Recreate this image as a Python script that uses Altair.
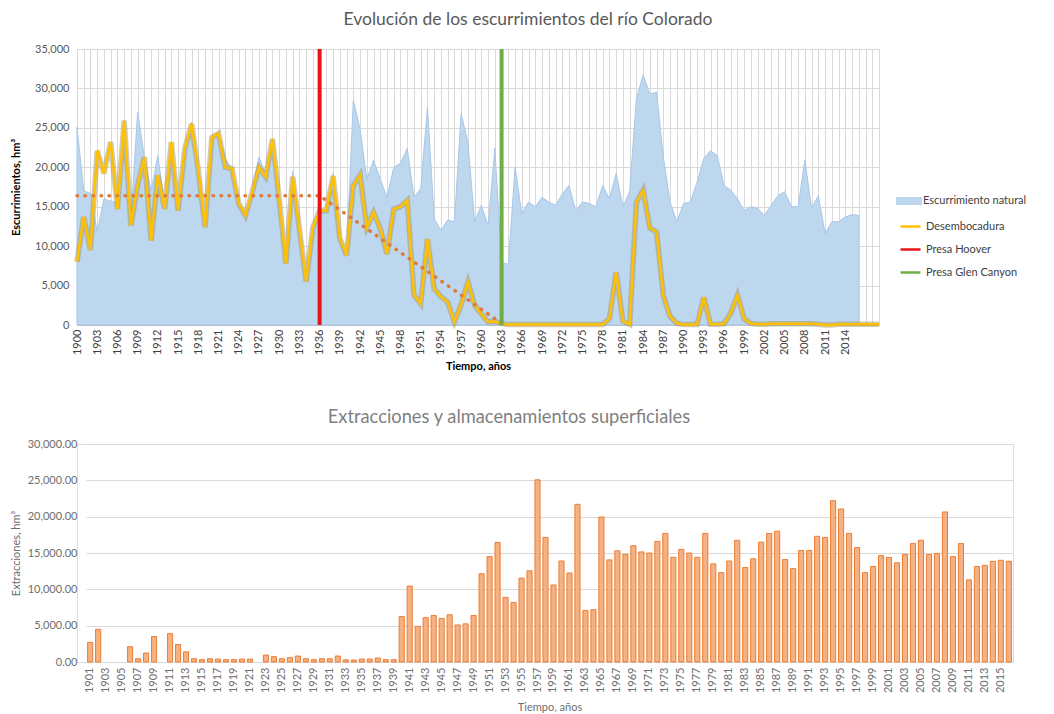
import altair as alt
import pandas as pd

# ---------------- data ----------------
years_nat = list(range(1900, 2017))
natural = [
    25100, 17000, 16700, 11800, 16000, 15700, 15500, 26000, 13500, 27000,
    21300, 17000, 21500, 15000, 23200, 14600, 22400, 25700, 19600, 12600,
    23800, 24400, 21100, 19800, 15500, 14000, 17000, 21300, 19200, 23600,
    16500, 8000, 19500, 12300, 5600, 12500, 14500, 14600, 19200, 11000,
    8800, 28500, 24900, 18500, 20900, 18500, 16200, 20000, 20500, 22400,
    16200, 17300, 27600, 13500, 12000, 13300, 13100, 26800, 23200, 13100,
    15200, 12600, 22400, 7900, 7700, 20000, 14100, 15600, 15000, 16200,
    15600, 15200, 16600, 17700, 14500, 15600, 15400, 15000, 17700, 16000,
    19200, 15000, 16900, 28700, 31700, 29300, 29500, 21300, 15600, 13100,
    15400, 15600, 18100, 21100, 22100, 21500, 17700, 17100, 16000, 14500,
    15000, 14800, 13900, 15200, 16400, 16900, 15000, 15000, 20900, 14800,
    16400, 11600, 13100, 13100, 13700, 14000, 13900,
]

years_out = list(range(1900, 2020))
outlet = [
    8000, 13700, 9500, 22100, 19200, 23200, 14700, 25900, 12600, 17700,
    21300, 10700, 19000, 14700, 23200, 14500, 22400, 25500, 19600, 12400,
    23800, 24300, 20000, 19800, 15400, 13900, 16900, 20000, 18800, 23600,
    16000, 7800, 18800, 12200, 5500, 12400, 14500, 14500, 18900, 11000,
    8800, 17700, 19000, 12400, 14300, 12200, 9000, 14700, 15000, 15800,
    3800, 2700, 10900, 4600, 3600, 2900, 400, 2600, 5450, 2500,
    1400, 400, 450, 170, 50, 60, 60, 60, 60, 60,
    60, 60, 60, 60, 60, 60, 60, 60, 50, 800,
    6700, 500, 100, 15500, 17100, 12300, 11800, 3700, 1100, 200,
    50, 50, 50, 3500, 100, 100, 150, 1500, 3800, 800,
    200, 100, 100, 150, 150, 150, 150, 150, 150, 150,
    100, 0, 0, 100, 100, 100, 100, 100, 100, 100,
]

dam_years = [1936, 1963]
dam_names = ["Presa Hoover", "Presa Glen Canyon"]

trend_years = [1900, 1936, 1963]
trend_vals = [16400, 16400, 200]

bar_years = list(range(1901, 2017))
extractions = [
    2700, 4500, 0, 0, 0, 2100, 450, 1230, 3500, 0,
    3900, 2400, 1400, 450, 320, 450, 400, 320, 320, 400,
    400, 0, 950, 730, 450, 600, 820, 450, 320, 450,
    450, 820, 300, 270, 400, 400, 550, 320, 320, 6250,
    10450, 4900, 6100, 6400, 6000, 6500, 5100, 5250, 6400, 12150,
    14500, 16450, 8900, 8200, 11550, 12550, 25070, 17150, 10600, 13900,
    12250, 21700, 7100, 7200, 19950, 14050, 15300, 14800, 16000, 15150,
    15000, 16600, 17700, 14400, 15500, 15000, 14400, 17700, 13500, 12300,
    13900, 16750, 13000, 14200, 16500, 17700, 18000, 14100, 12850, 15350,
    15350, 17300, 17150, 22200, 21050, 17700, 15750, 12300, 13150, 14650,
    14400, 13650, 14800, 16300, 16750, 14800, 14950, 20650, 14500, 16300,
    11300, 13150, 13300, 13850, 14000, 13850,
]

FONT = "Lato"

nat_df = pd.DataFrame({"year": years_nat, "v": natural, "serie": "Escurrimiento natural"})
out_df = pd.DataFrame({"year": years_out, "v": outlet, "serie": "Desembocadura"})
dam_df = pd.DataFrame({"year": dam_years, "serie": dam_names})
trend_df = pd.DataFrame({"year": trend_years, "v": trend_vals})
bar_df = pd.DataFrame({"year": bar_years, "v": extractions})

# ---------------- top chart ----------------
x_top = alt.X(
    "year:Q",
    scale=alt.Scale(domain=[1900, 2019], nice=False, zero=False),
    axis=alt.Axis(
        values=list(range(1900, 2020)),
        format="d",
        labelExpr="(datum.value - 1900) % 3 == 0 && datum.value <= 2014 ? datum.label : ''",
        labelAngle=-90,
        labelOverlap=False,
        labelFlush=False,
        labelFont=FONT,
        labelFontSize=11,
        labelColor="#404040",
        labelPadding=4,
        grid=True,
        gridColor="#D9D9D9",
        ticks=False,
        domainColor="#BFBFBF",
        title="Tiempo, años",
        titleFont=FONT,
        titleFontSize=11,
        titleFontWeight="bold",
        titleColor="#000000",
        titlePadding=6,
    ),
)

y_axis_top = alt.Axis(
    values=list(range(0, 35001, 5000)),
    labelExpr="format(datum.value, ',')",
    labelFont=FONT,
    labelFontSize=11,
    labelColor="#595959",
    labelPadding=8,
    grid=True,
    gridColor="#D9D9D9",
    ticks=False,
    domain=False,
    title="Escurrimientos, hm³",
    titleFont=FONT,
    titleFontSize=11,
    titleFontWeight="bold",
    titleColor="#000000",
    titlePadding=13,
)
y_top = alt.Y("v:Q", scale=alt.Scale(domain=[0, 35000], nice=False), stack=None, axis=y_axis_top)

fill_scale = alt.Scale(domain=["Escurrimiento natural"], range=["#BDD7EE"])
stroke_scale = alt.Scale(
    domain=["Desembocadura", "Presa Hoover", "Presa Glen Canyon"],
    range=["#FFC000", "#E8141B", "#70AD47"],
)

fill_legend = alt.Legend(
    title=None,
    orient="none",
    legendX=822,
    legendY=142,
    symbolType="M-1.3,-0.4H1.3V0.4H-1.3Z",
    symbolSize=400,
    symbolStrokeWidth=0,
    labelFont=FONT,
    labelFontSize=11,
    labelColor="#404040",
    labelOffset=4,
)
stroke_legend = alt.Legend(
    title=None,
    orient="none",
    legendX=822,
    legendY=166,
    symbolType="stroke",
    symbolSize=400,
    symbolStrokeWidth=2.5,
    rowPadding=6,
    labelFont=FONT,
    labelFontSize=11,
    labelColor="#404040",
    labelOffset=4,
)

area = alt.Chart(nat_df).mark_area(stroke="#A9C7E8", strokeWidth=1, fillOpacity=1).encode(
    x=x_top,
    y=y_top,
    fill=alt.Fill("serie:N", scale=fill_scale, legend=fill_legend),
)

shadow = alt.Chart(out_df).mark_line(color="#A39466", strokeWidth=5.5, opacity=0.5).encode(
    x=x_top, y=y_top
)

line = alt.Chart(out_df).mark_line(strokeWidth=2.5).encode(
    x=x_top,
    y=y_top,
    stroke=alt.Stroke("serie:N", scale=stroke_scale, legend=stroke_legend),
)

trend = alt.Chart(trend_df).mark_line(
    color="#E07B39", strokeWidth=3.5, strokeDash=[0.5, 7.5], strokeCap="round"
).encode(x=x_top, y=y_top)

dams = alt.Chart(dam_df).mark_rule(strokeWidth=4).encode(
    x=x_top,
    stroke=alt.Stroke("serie:N", scale=stroke_scale, legend=stroke_legend),
)

top = alt.layer(area, shadow, line, trend, dams).properties(
    width=802,
    height=276,
    title=alt.TitleParams(
        "Evolución de los escurrimientos del río Colorado",
        font=FONT,
        fontSize=17.5,
        fontWeight="normal",
        color="#595959",
        dx=50,
        offset=15,
    ),
)

# ---------------- bottom chart ----------------
bottom = (
    alt.Chart(bar_df)
    .transform_filter("datum.v > 0")
    .mark_bar(fill="#F4B183", stroke="#ED7D31", strokeWidth=1)
    .encode(
        x=alt.X(
            "year:O",
            scale=alt.Scale(domain=bar_years, range=[9, 936], paddingInner=0.36, paddingOuter=0.2),
            axis=alt.Axis(
                values=bar_years[::2],
                labelAngle=-90,
                labelFont=FONT,
                labelFontSize=11,
                labelColor="#6E6E6E",
                labelPadding=5,
                ticks=False,
                domainColor="#D9D9D9",
                title="Tiempo, años",
                titleFont=FONT,
                titleFontSize=11,
                titleFontWeight="normal",
                titleColor="#6E6E6E",
                titlePadding=9,
            ),
        ),
        y=alt.Y(
            "v:Q",
            scale=alt.Scale(domain=[0, 30000], nice=False),
            axis=alt.Axis(
                values=list(range(0, 30001, 5000)),
                labelExpr="format(datum.value, ',.2f')",
                labelFont=FONT,
                labelFontSize=11,
                labelColor="#6E6E6E",
                labelPadding=0,
                grid=True,
                gridColor="#D9D9D9",
                ticks=False,
                domain=False,
                title="Extracciones, hm³",
                titleFont=FONT,
                titleFontSize=11,
                titleFontWeight="normal",
                titleColor="#6E6E6E",
                titlePadding=6,
            ),
        ),
    )
    .properties(
        width=936,
        height=218,
        title=alt.TitleParams(
            "Extracciones y almacenamientos superficiales",
            font=FONT,
            fontSize=18.3,
            fontWeight="normal",
            color="#7F7F7F",
            dx=-36,
            offset=11,
        ),
    )
)

chart = (
    alt.concat(top, bottom, columns=1, spacing=34)
    .properties(padding={"left": 1, "top": 2, "right": 2, "bottom": 2})
    .resolve_scale(x="independent", y="independent", fill="independent", stroke="independent")
    .configure_view(strokeWidth=0)
    .configure(background="white")
)

chart.save("out.html", embed_options={"renderer": "svg", "actions": False})
